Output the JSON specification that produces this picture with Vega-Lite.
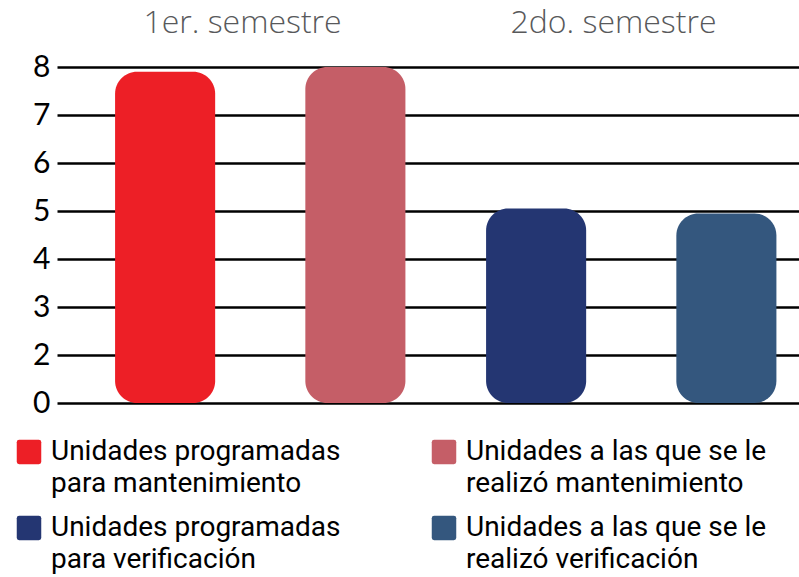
{
  "$schema": "https://vega.github.io/schema/vega-lite/v6.json",
  "width": 742,
  "height": 336,
  "autosize": {"type": "none"},
  "padding": {"left": 57, "top": 67, "right": 0, "bottom": 174},
  "background": "white",
  "config": {"view": {"stroke": null}},
  "data": {
    "values": [
      {"semestre": "1er. semestre", "tipo": "Programadas", "serie": "Unidades programadas\npara mantenimiento", "unidades": 7.9},
      {"semestre": "1er. semestre", "tipo": "Realizadas", "serie": "Unidades a las que se le\nrealizó mantenimiento", "unidades": 8.0},
      {"semestre": "2do. semestre", "tipo": "Programadas", "serie": "Unidades programadas\npara verificación", "unidades": 5.05},
      {"semestre": "2do. semestre", "tipo": "Realizadas", "serie": "Unidades a las que se le\nrealizó verificación", "unidades": 4.95}
    ]
  },
  "mark": {"type": "bar", "cornerRadius": 22},
  "encoding": {
    "x": {
      "field": "semestre",
      "type": "nominal",
      "sort": ["1er. semestre", "2do. semestre"],
      "scale": {"paddingInner": 0, "paddingOuter": 0},
      "axis": {
        "orient": "top",
        "title": null,
        "domain": false,
        "ticks": false,
        "labelAngle": 0,
        "labelLimit": 0,
        "labelFont": "Open Sans",
        "labelFontWeight": 300,
        "labelFontSize": 32,
        "labelColor": "#58595B",
        "labelPadding": 28
      }
    },
    "xOffset": {
      "field": "tipo",
      "type": "nominal",
      "sort": ["Programadas", "Realizadas"],
      "scale": {"paddingInner": 0.474, "paddingOuter": 0.212, "align": 0.72}
    },
    "y": {
      "field": "unidades",
      "type": "quantitative",
      "scale": {"domain": [1, 8], "zero": false, "nice": false},
      "axis": {
        "title": null,
        "values": [1, 2, 3, 4, 5, 6, 7, 8],
        "labelExpr": "datum.value == 1 ? '0' : datum.label",
        "domain": false,
        "ticks": false,
        "grid": true,
        "gridColor": "#000000",
        "gridWidth": 2.5,
        "gridOpacity": 1,
        "labelFont": "Lato",
        "labelFontSize": 30,
        "labelColor": "#000000",
        "labelPadding": 7
      }
    },
    "y2": {"datum": 1},
    "color": {
      "field": "serie",
      "type": "nominal",
      "scale": {
        "domain": [
          "Unidades programadas\npara mantenimiento",
          "Unidades a las que se le\nrealizó mantenimiento",
          "Unidades programadas\npara verificación",
          "Unidades a las que se le\nrealizó verificación"
        ],
        "range": ["#ED1F26", "#C55E67", "#243672", "#34577E"]
      },
      "legend": {
        "title": null,
        "orient": "none",
        "direction": "horizontal",
        "legendX": -42,
        "legendY": 371,
        "padding": 0,
        "columns": 2,
        "columnPadding": 89,
        "rowPadding": 16,
        "symbolType": "M -0.8 -1 L 0.8 -1 Q 1 -1 1 -0.8 L 1 0.8 Q 1 1 0.8 1 L -0.8 1 Q -1 1 -1 0.8 L -1 -0.8 Q -1 -1 -0.8 -1 Z",
        "symbolSize": 600,
        "symbolStrokeWidth": 0,
        "symbolOpacity": 1,
        "labelFont": "Roboto",
        "labelFontSize": 28,
        "labelColor": "#000000",
        "labelLimit": 0,
        "labelOffset": 8,
        "labelBaseline": "middle",
        "labelExpr": "split(datum.label, '\\n')",
        "encode": {
          "labels": {"update": {"lineHeight": {"value": 32}}}
        }
      }
    }
  }
}
